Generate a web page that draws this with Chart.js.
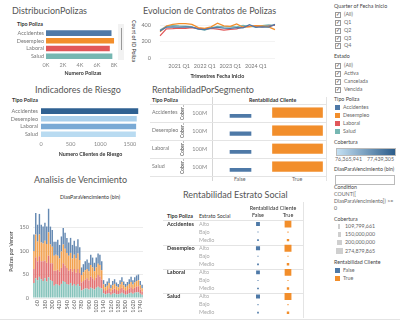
<!DOCTYPE html>
<html lang="es">
<head>
<meta charset="utf-8">
<script src="https://cdn.jsdelivr.net/npm/chart.js"></script>
<style>
  body { margin: 0; width: 400px; height: 322px; position: relative; overflow: hidden; background: #fff; font-family: 'Lato', sans-serif; }
  canvas { position: absolute; }
  .t { position: absolute; white-space: nowrap; line-height: 1; }
  .title { font-size: 9px; color: #555; }
  .sm { font-size: 5.3px; color: #666; }
  .hd { font-size: 5.3px; color: #333; font-weight: bold; }
  .hr { font-size: 5.3px; color: #444; }
  .ln { position: absolute; background: #e4e4e4; }
  .cb { display: inline-block; width: 4px; height: 4px; border: 0.6px solid #999; font-size: 4.5px; line-height: 4px; text-align: center; color: #333; margin-right: 3px; vertical-align: middle; }
  .sw { display: inline-block; width: 5px; height: 5px; margin-right: 3px; vertical-align: middle; }
</style>
</head>
<body>

<!-- titulos -->
<div class="t title" style="left:12px;top:5.5px">DistribucionPolizas</div>
<div class="t title" style="left:143px;top:5.5px">Evolucion de Contratos de Polizas</div>
<div class="t title" style="left:35px;top:84.5px">Indicadores de Riesgo</div>
<div class="t title" style="left:152px;top:84.5px">RentabilidadPorSegmento</div>
<div class="t title" style="left:34px;top:174.5px">Analisis de Vencimiento</div>
<div class="t title" style="left:183px;top:189.5px">Rentabilidad Estrato Social</div>

<!-- encabezados -->
<div class="t hd" style="left:17px;top:21.5px">Tipo Poliza</div>
<div class="t hd" style="left:12px;top:98px">Tipo Poliza</div>
<div class="t hd" style="left:152px;top:98px">Tipo Poliza</div>
<div class="t hd" style="left:249px;top:98px">Rentabilidad Cliente</div>
<div class="t hd" style="left:60px;top:194.5px;font-weight:normal;color:#333">DiasParaVencimiento (bin)</div>
<div class="t hd" style="left:167px;top:214px">Tipo Poliza</div>
<div class="t hd" style="left:199px;top:214px;font-weight:normal">Estrato Social</div>

<!-- barra de desplazamiento y etiqueta lateral -->
<div class="ln" style="left:118px;top:24px;width:6px;height:36px;background:#f2f2f2"></div>
<div class="ln" style="left:120.5px;top:28px;width:1px;height:22px;background:#999"></div>
<div class="t hd" style="left:131px;top:20px;writing-mode:vertical-rl;font-weight:normal">Count of ID Poliza</div>

<!-- lineas de tabla -->
<div class="ln" style="left:212px;top:97px;width:0.6px;height:84px;background:#d6d6d6"></div>
<div class="ln" style="left:150px;top:104px;width:176px;height:0.6px"></div>
<div class="ln" style="left:150px;top:122px;width:176px;height:0.6px"></div>
<div class="ln" style="left:150px;top:140px;width:176px;height:0.6px"></div>
<div class="ln" style="left:150px;top:158px;width:176px;height:0.6px"></div>
<div class="ln" style="left:150px;top:175.5px;width:176px;height:0.6px"></div>
<div class="ln" style="left:326px;top:97px;width:0.6px;height:84px"></div>
<div class="t sm" style="left:234px;top:177px">False</div>
<div class="t sm" style="left:292px;top:177px">True</div>

<div class="ln" style="left:163px;top:220px;width:140px;height:0.6px"></div>
<div class="ln" style="left:163px;top:244.5px;width:140px;height:0.6px"></div>
<div class="ln" style="left:163px;top:268.5px;width:140px;height:0.6px"></div>
<div class="ln" style="left:163px;top:292.5px;width:140px;height:0.6px"></div>
<div class="ln" style="left:303px;top:202px;width:0.6px;height:116px"></div>
<div class="ln" style="left:0px;top:318.5px;width:400px;height:0.6px"></div>

<!-- graficos -->
<canvas id="cA" width="112" height="50" style="left:10px;top:26px"></canvas>
<canvas id="cB" width="142" height="61" style="left:138px;top:18px"></canvas>
<canvas id="cC" width="140" height="53" style="left:4px;top:104px"></canvas>
<canvas id="cD" width="152" height="122" style="left:0px;top:200px"></canvas>
<canvas id="cE0" width="152" height="17" style="left:176px;top:104px"></canvas>
<canvas id="cE1" width="152" height="17" style="left:176px;top:122px"></canvas>
<canvas id="cE2" width="152" height="17" style="left:176px;top:140px"></canvas>
<canvas id="cE3" width="152" height="17" style="left:176px;top:158px"></canvas>
<canvas id="cF" width="146" height="118" style="left:160px;top:202px"></canvas>

<!-- panel derecho: filtros y leyendas -->
<div class="t hr" style="left:334px;top:3.5px">Quarter of Fecha Inicio</div>
<div class="t sm" style="left:335px;top:12px"><span class="cb">✓</span>(All)</div>
<div class="t sm" style="left:335px;top:20px"><span class="cb">✓</span>Q1</div>
<div class="t sm" style="left:335px;top:28px"><span class="cb">✓</span>Q2</div>
<div class="t sm" style="left:335px;top:35.5px"><span class="cb">✓</span>Q3</div>
<div class="t sm" style="left:335px;top:43px"><span class="cb">✓</span>Q4</div>
<div class="t hr" style="left:334px;top:54px">Estado</div>
<div class="t sm" style="left:335px;top:63px"><span class="cb">✓</span>(All)</div>
<div class="t sm" style="left:335px;top:71px"><span class="cb">✓</span>Activa</div>
<div class="t sm" style="left:335px;top:79px"><span class="cb">✓</span>Cancelada</div>
<div class="t sm" style="left:335px;top:86.5px"><span class="cb">✓</span>Vencida</div>
<div class="t hr" style="left:334px;top:97px">Tipo Poliza</div>
<div class="t sm" style="left:335px;top:105px"><span class="sw" style="background:#4e79a7"></span>Accidentes</div>
<div class="t sm" style="left:335px;top:113px"><span class="sw" style="background:#f28e2b"></span>Desempleo</div>
<div class="t sm" style="left:335px;top:121px"><span class="sw" style="background:#e15759"></span>Laboral</div>
<div class="t sm" style="left:335px;top:129px"><span class="sw" style="background:#76b7b2"></span>Salud</div>
<div class="t hr" style="left:334px;top:140px">Cobertura</div>
<div class="ln" style="left:336px;top:148px;width:58px;height:6px;background:linear-gradient(to right,#c4e0f3,#2b5c8a);border:0.6px solid #bbb"></div>
<div class="t sm" style="left:335px;top:157px">76,365,941</div>
<div class="t sm" style="left:367px;top:157px">77,439,305</div>
<div class="t hr" style="left:334px;top:167px">DiasParaVencimiento (bin)</div>
<div class="ln" style="left:335px;top:175px;width:58px;height:8px;background:#fff;border:0.6px solid #bbb"></div>
<div class="t hr" style="left:334px;top:184.5px">Condition</div>
<div class="t sm" style="left:334px;top:191.5px">COUNT([</div>
<div class="t sm" style="left:334px;top:198.5px">DiasParaVencimiento]) &gt;=</div>
<div class="t sm" style="left:334px;top:205.5px">0</div>
<div class="t hr" style="left:334px;top:216.5px">Cobertura</div>
<div class="ln" style="left:338px;top:224px;width:2px;height:5px;background:#cfcfcf"></div>
<div class="t sm" style="left:345px;top:224px">109,799,661</div>
<div class="ln" style="left:337.5px;top:232px;width:3px;height:5px;background:#cfcfcf"></div>
<div class="t sm" style="left:345px;top:232px">150,000,000</div>
<div class="ln" style="left:337px;top:240px;width:4.5px;height:5px;background:#cfcfcf"></div>
<div class="t sm" style="left:345px;top:240px">200,000,000</div>
<div class="ln" style="left:336px;top:248px;width:7px;height:6px;background:#cfcfcf"></div>
<div class="t sm" style="left:345px;top:249px">274,879,865</div>
<div class="t hr" style="left:334px;top:259.5px">Rentabilidad Cliente</div>
<div class="t sm" style="left:335px;top:267.5px"><span class="sw" style="background:#4e79a7"></span>False</div>
<div class="t sm" style="left:335px;top:275.5px"><span class="sw" style="background:#f28e2b"></span>True</div>

<script>
  // ---- datos ----
  const tiposPoliza = ['Accidentes', 'Desempleo', 'Laboral', 'Salud'];
  const coloresTipo = ['#4e79a7', '#f28e2b', '#e15759', '#76b7b2'];

  // DistribucionPolizas (count of ID Poliza)
  const numeroPolizas = [7700, 8000, 7500, 7800];
  const ticksPolizas = [0, 2000, 4000, 6000, 8000];

  // Evolucion de Contratos de Polizas
  const trimestres = ['2020 Q2', '2020 Q3', '2020 Q4', '2021 Q1', '2021 Q2', '2021 Q3', '2021 Q4',
    '2022 Q1', '2022 Q2', '2022 Q3', '2022 Q4', '2023 Q1', '2023 Q2', '2023 Q3', '2023 Q4',
    '2024 Q1', '2024 Q2', '2024 Q3', '2024 Q4'];
  const contratosAccidentes = [330, 375, 378, 375, 380, 375, 352, 345, 365, 372, 365, 362, 370, 368, 405, 372, 380, 375, 410];
  const contratosDesempleo = [320, 390, 410, 418, 418, 410, 370, 360, 380, 425, 392, 385, 415, 375, 380, 395, 390, 380, 345];
  const contratosLaboral = [270, 355, 358, 365, 362, 370, 362, 358, 360, 352, 340, 348, 355, 378, 385, 392, 380, 388, 400];
  const contratosSalud = [340, 385, 398, 392, 388, 380, 355, 340, 368, 385, 378, 382, 380, 398, 385, 378, 395, 402, 398];
  const ticksContratos = [0, 200, 400];

  // Indicadores de Riesgo
  const clientesRiesgo = [1640, 1615, 1605, 1600];
  const coloresRiesgo = ['#2f6192', '#a9cfeb', '#7aaad5', '#b9dbf1'];
  const ticksRiesgo = [0, 500, 1000, 1500];

  // Analisis de Vencimiento (bins de 30 dias)
  const binsDias = [0, 30, 60, 90, 120, 150, 180, 210, 240, 270, 300, 330, 360, 390, 420, 450, 480, 510,
    540, 570, 600, 630, 660, 690, 720, 750, 780, 810, 840, 870, 900, 930, 960, 990, 1020, 1050,
    1080, 1110, 1140, 1170, 1200, 1230, 1260, 1290, 1320, 1350, 1380, 1410, 1440, 1470, 1500,
    1530, 1560, 1590, 1620, 1650, 1680, 1710, 1740, 1770];
  const vencerSalud = [32, 42, 38, 45, 40, 36, 42, 35, 44, 38, 36, 26, 30, 28, 26, 30, 36, 34, 30, 28,
    32, 26, 30, 26, 30, 25, 16, 18, 20, 20, 18, 22, 20, 18, 22, 24, 22, 20,
    10, 8, 9, 10, 7, 9, 10, 8, 8, 9, 11, 9, 7, 8, 10, 11, 9, 11, 12, 12, 9, 7];
  const vencerLaboral = [30, 45, 40, 44, 38, 42, 38, 40, 46, 36, 38, 32, 28, 32, 30, 34, 38, 35, 34, 30,
    30, 30, 32, 28, 32, 28, 17, 18, 19, 22, 19, 24, 22, 20, 21, 25, 24, 19,
    9, 7, 8, 11, 7, 9, 10, 9, 7, 10, 11, 9, 8, 9, 10, 12, 10, 11, 12, 13, 9, 7];
  const vencerDesempleo = [38, 48, 42, 46, 40, 38, 42, 40, 50, 40, 35, 32, 34, 30, 28, 35, 40, 36, 32, 32,
    34, 28, 30, 30, 33, 28, 16, 19, 20, 20, 20, 24, 23, 19, 22, 24, 24, 20,
    10, 8, 9, 11, 7, 9, 10, 8, 8, 10, 12, 9, 8, 9, 10, 11, 10, 11, 12, 13, 9, 7];
  const vencerAccidentes = [35, 46, 36, 44, 38, 36, 38, 37, 50, 38, 36, 30, 28, 34, 29, 32, 35, 34, 32, 28,
    32, 29, 30, 26, 30, 27, 16, 17, 19, 20, 18, 22, 21, 18, 21, 22, 22, 19,
    9, 7, 9, 10, 7, 9, 10, 8, 7, 9, 10, 8, 7, 8, 10, 11, 9, 11, 12, 12, 9, 7];
  const ticksVencer = [0, 50, 100, 150];

  // RentabilidadPorSegmento (Cobertura por Rentabilidad Cliente)
  const rentabilidad = ['False', 'True'];
  const coberturaFalse = [75e6, 88e6, 75e6, 76e6];
  const coberturaTrue = [232e6, 236e6, 228e6, 231e6];
  const ticksCobertura = [100e6];

  // Rentabilidad Estrato Social (Cobertura por tipo y estrato)
  const estratos = ['Alto', 'Bajo', 'Medio'];
  const estratoFalse = [188e6, 110e6, 128e6, 195e6, 111e6, 130e6, 186e6, 110e6, 129e6, 192e6, 111e6, 127e6];
  const estratoTrue = [268e6, 113e6, 148e6, 274e6, 112e6, 150e6, 266e6, 112e6, 147e6, 272e6, 113e6, 149e6];
  const coberturaMin = 109799661, coberturaMax = 274879865;

  // ---- configuracion general ----
  Chart.defaults.font.family = 'Lato';
  Chart.defaults.font.size = 5.5;
  Chart.defaults.color = '#666';
  Chart.defaults.animation = false;
  Chart.defaults.responsive = false;
  Chart.defaults.layout.autoPadding = false;
  Chart.defaults.plugins.legend.display = false;
  Chart.defaults.plugins.tooltip.enabled = false;

  function fixW(w) { return function (s) { s.width = w; }; }
  function fixH(h) { return function (s) { s.height = h; }; }
  function usarTicks(valores) { return function (s) { s.ticks = valores.map(v => ({ value: v })); }; }
  const noGrid = { display: false, drawTicks: false };
  // separacion de etiquetas del eje y mediante marcas invisibles (no recorta el area vertical)
  const gridY = (len, color) => ({ display: !!color, color: color || 'rgba(0,0,0,0)', drawTicks: true, tickLength: len, tickColor: 'rgba(0,0,0,0)' });
  const noBorder = { display: false };
  const axisTitle = (txt) => ({ display: true, text: txt, color: '#333', font: { size: 5.3, weight: 'bold' }, padding: 0 });

  // DistribucionPolizas
  new Chart(document.getElementById('cA'), {
    type: 'bar',
    data: { labels: tiposPoliza, datasets: [{ data: numeroPolizas, backgroundColor: coloresTipo, barPercentage: 0.72, categoryPercentage: 1 }] },
    options: {
      indexAxis: 'y',
      layout: { padding: { top: 2, right: 2 } },
      scales: {
        y: { grid: gridY(2), border: noBorder, ticks: { autoSkip: false, padding: 0, color: '#777' }, afterFit: fixW(36) },
        x: { min: 0, max: 8700, grid: noGrid, border: noBorder, afterBuildTicks: usarTicks(ticksPolizas),
             ticks: { autoSkip: false, padding: 2, color: '#888', callback: v => (v / 1000) + 'K' },
             title: axisTitle('Numero Polizas'), afterFit: fixH(16) }
      }
    }
  });

  // Evolucion de Contratos de Polizas
  const series = [contratosAccidentes, contratosDesempleo, contratosLaboral, contratosSalud];
  new Chart(document.getElementById('cB'), {
    type: 'line',
    data: {
      labels: trimestres,
      datasets: series.map((d, i) => ({ label: tiposPoliza[i], data: d, borderColor: coloresTipo[i], borderWidth: 1.3, pointRadius: 0, tension: 0 }))
    },
    options: {
      layout: { padding: { top: 2, right: 3 } },
      scales: {
        y: { min: 0, max: 447, grid: gridY(9, '#f3f3f3'), border: noBorder, afterBuildTicks: usarTicks(ticksContratos),
             ticks: { autoSkip: false, padding: 0, color: '#777' }, afterFit: fixW(22) },
        x: { grid: noGrid, border: noBorder,
             ticks: { autoSkip: false, maxRotation: 0, padding: 5, color: '#777', callback: (v, i) => trimestres[i].endsWith('Q1') ? trimestres[i] : '' },
             title: axisTitle('Trimestres Fecha Inicio'), afterFit: fixH(21) }
      }
    }
  });

  // Indicadores de Riesgo
  new Chart(document.getElementById('cC'), {
    type: 'bar',
    data: { labels: tiposPoliza, datasets: [{ data: clientesRiesgo, backgroundColor: coloresRiesgo, barPercentage: 0.72, categoryPercentage: 1 }] },
    options: {
      indexAxis: 'y',
      layout: { padding: { top: 2, right: 4 } },
      scales: {
        y: { grid: gridY(3), border: noBorder, ticks: { autoSkip: false, padding: 0, color: '#777' }, afterFit: fixW(37) },
        x: { min: 0, max: 1670, grid: noGrid, border: noBorder, afterBuildTicks: usarTicks(ticksRiesgo),
             ticks: { autoSkip: false, padding: 3, color: '#888', callback: v => String(v) },
             title: axisTitle('Numero Clientes de Riesgo'), afterFit: fixH(19) }
      }
    }
  });

  // Analisis de Vencimiento
  const apilado = [
    { label: 'Salud', data: vencerSalud, backgroundColor: '#86c3bb' },
    { label: 'Laboral', data: vencerLaboral, backgroundColor: '#e27172' },
    { label: 'Desempleo', data: vencerDesempleo, backgroundColor: '#f2a04e' },
    { label: 'Accidentes', data: vencerAccidentes, backgroundColor: '#6589b2' }
  ];
  new Chart(document.getElementById('cD'), {
    type: 'bar',
    data: { labels: binsDias, datasets: apilado.map(d => Object.assign(d, { barPercentage: 0.78, categoryPercentage: 1 })) },
    options: {
      layout: { padding: { left: 8, top: 5, right: 9 } },
      scales: {
        y: { stacked: true, min: 0, max: 198, grid: gridY(4, '#ececec'), border: noBorder, afterBuildTicks: usarTicks(ticksVencer),
             ticks: { autoSkip: false, padding: 0, color: '#777' },
             title: { display: true, text: 'Polizas por Vencer', color: '#333', font: { size: 5 }, padding: 0 },
             afterFit: fixW(25) },
        x: { stacked: true, grid: noGrid, border: noBorder,
             ticks: { autoSkip: false, minRotation: 90, maxRotation: 90, padding: 2, color: '#666',
                      callback: (v, i) => ((binsDias[i] - 60) % 120 === 0 ? String(binsDias[i]) : '') },
             afterFit: fixH(24) }
      }
    }
  });

  // RentabilidadPorSegmento: una fila por tipo de poliza
  tiposPoliza.forEach((tipo, i) => {
    new Chart(document.getElementById('cE' + i), {
      type: 'bar',
      data: {
        labels: rentabilidad,
        datasets: [
          { data: [coberturaFalse[i], null], backgroundColor: '#4e79a7', barThickness: 21, grouped: false },
          { data: [null, coberturaTrue[i]], backgroundColor: '#f28e2b', barThickness: 50, grouped: false }
        ]
      },
      options: {
        layout: { padding: { left: 4, right: 2 } },
        scales: {
          x: { display: false },
          y: { min: 0, max: 240e6, grid: gridY(5), border: noBorder, afterBuildTicks: usarTicks(ticksCobertura),
               ticks: { padding: 0, color: '#888', callback: v => (v / 1e6) + 'M' },
               title: { display: true, text: 'Cober..', color: '#444', font: { size: 4.8 }, padding: 0 },
               afterFit: fixW(32) }
        }
      }
    });
    const lbl = document.createElement('div');
    lbl.className = 't sm';
    lbl.style.left = '152px';
    lbl.style.top = (110 + i * 18) + 'px';
    lbl.style.color = '#777';
    lbl.textContent = tipo;
    document.body.appendChild(lbl);
  });

  // Rentabilidad Estrato Social
  const filas = [];
  tiposPoliza.forEach(t => estratos.forEach(e => filas.push(t + '|' + e)));
  const lado = v => 1 + 6 * (v - coberturaMin) / (coberturaMax - coberturaMin);
  new Chart(document.getElementById('cF'), {
    type: 'scatter',
    data: {
      datasets: [
        { data: filas.map((k, i) => ({ x: 'False', y: k, v: estratoFalse[i] })), backgroundColor: '#4e79a7' },
        { data: filas.map((k, i) => ({ x: 'True', y: k, v: estratoTrue[i] })), backgroundColor: '#f28e2b' }
      ]
    },
    options: {
      layout: { padding: { left: 7, right: 3, bottom: 3 } },
      elements: { point: { pointStyle: 'rect', borderWidth: 0, radius: ctx => lado(ctx.raw.v) / Math.SQRT2 } },
      scales: {
        x: { type: 'category', labels: rentabilidad, position: 'top', offset: true, grid: noGrid, border: noBorder,
             ticks: { color: '#333', padding: 1 },
             title: { display: true, text: 'Rentabilidad Cliente', color: '#333', font: { size: 5.3 }, padding: { top: 3 } },
             afterFit: fixH(18) },
        y: { type: 'category', labels: filas, offset: true, weight: 1, grid: noGrid, border: noBorder,
             ticks: { autoSkip: false, crossAlign: 'far', padding: 0, color: '#aaa', callback: (v, i) => filas[i].split('|')[1] },
             afterFit: fixW(44) },
        yT: { type: 'category', labels: filas, offset: true, position: 'left', weight: 2, grid: noGrid, border: noBorder,
              ticks: { autoSkip: false, crossAlign: 'far', padding: 0, color: '#333', font: { weight: 'bold' },
                       callback: (v, i) => filas[i].endsWith('|Alto') ? filas[i].split('|')[0] : '' },
              afterFit: fixW(32) }
      }
    }
  });
</script>
</body>
</html>
